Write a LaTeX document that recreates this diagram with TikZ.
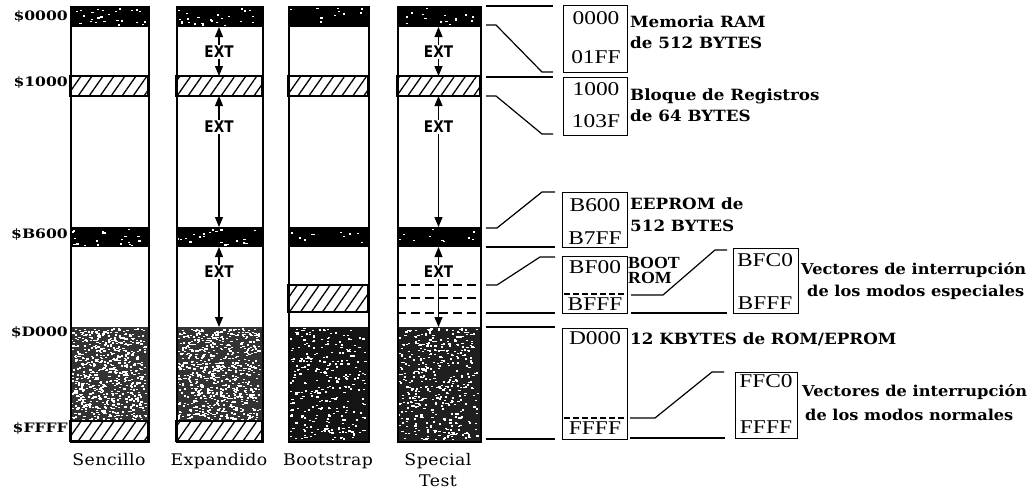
\documentclass[tikz,border=0pt]{standalone}
\usepackage{fontspec}
\setmainfont{DejaVu Serif}
\newfontfamily\addrf[FakeStretch=1.2]{DejaVu Serif}
\newfontfamily\descf[FakeStretch=1.08]{DejaVu Serif}
\newfontfamily\bootfont[FakeStretch=1.05]{Liberation Serif}
\newfontfamily\boxf[FakeStretch=1.2]{Liberation Serif}
\newfontfamily\extf[FakeStretch=0.85]{DejaVu Sans}
\newfontfamily\modef[FakeStretch=1.08,LetterSpace=3]{DejaVu Serif}
\usetikzlibrary{arrows.meta,patterns.meta}
\newcommand{\noisefill}[6]{%
  \fill[black!#6] (#1,#2) rectangle (#3,#4);
  \foreach \k in {1,...,#5}{%
    \pgfmathsetmacro{\px}{#1+1+rnd*(#3-#1-4)}%
    \pgfmathsetmacro{\py}{#2+1+rnd*(#4-#2-3)}%
    \fill[white] (\px,\py) rectangle ++(2.2,1.4);
  }%
}
\begin{document}
\begin{tikzpicture}[x=1pt,y=-1pt,
  colbox/.style={draw=black,line width=1.5pt,anchor=north west,inner sep=0pt},
  hatch/.style={pattern={Lines[angle=55,distance=9pt,line width=1.3pt]},draw=black,line width=1.2pt},
  conn/.style={line width=1.2pt},
  mbox/.style={draw=black,line width=1.4pt,anchor=north west,inner sep=0pt},
  ext/.style={font=\extf\bfseries\fontsize{16}{16}\selectfont,inner sep=1pt},
  extarrow/.style={line width=1.1pt,-{Triangle[length=10pt,width=8pt]}},
  addr/.style={anchor=east,inner sep=0pt,font=\addrf\bfseries\fontsize{13}{13}\selectfont},
  desc/.style={anchor=base west,inner sep=0pt,font=\descf\bfseries\fontsize{15.5}{15.5}\selectfont},
  descv/.style={anchor=base west,inner sep=0pt,font=\descf\bfseries\fontsize{15}{15}\selectfont},
  bootf/.style={anchor=base west,inner sep=0pt,font=\bootfont\bfseries\fontsize{17}{17}\selectfont},
  boxtxt/.style={inner sep=0pt,font=\boxf\fontsize{19.5}{19.5}\selectfont},
  modelab/.style={anchor=base,inner sep=0pt,font=\modef\fontsize{16}{16}\selectfont},
  dashline/.style={line width=1.2pt,dash pattern=on 9pt off 5pt}
]
\useasboundingbox (0,0) rectangle (1031,490);
\pgfmathsetseed{7}

% ---- column 1: Sencillo
\noisefill{70}{6}{148}{27}{25}{100}
\draw[hatch] (70,76) rectangle (148,96);
\noisefill{70}{227}{148}{247}{20}{100}
\noisefill{70}{327}{148}{421}{650}{80}
\draw[hatch] (70,421) rectangle (148,441);
% ---- column 2: Expandido
\noisefill{176}{6}{262}{27}{25}{100}
\draw[hatch] (176,76) rectangle (262,96);
\noisefill{176}{227}{262}{247}{20}{100}
\noisefill{176}{327}{262}{421}{700}{80}
\draw[hatch] (176,421) rectangle (262,441);
% ---- column 3: Bootstrap
\noisefill{288}{6}{368}{27}{10}{100}
\draw[hatch] (288,76) rectangle (368,96);
\noisefill{288}{227}{368}{247}{10}{100}
\draw[hatch] (288,285) rectangle (368,312);
\noisefill{288}{327}{368}{441}{300}{92}
% ---- column 4: Special Test
\noisefill{397}{6}{480}{27}{15}{100}
\draw[hatch] (397,76) rectangle (480,96);
\noisefill{397}{227}{480}{247}{10}{100}
\noisefill{397}{327}{480}{441}{450}{88}
\draw[dashline] (397,285) -- (480,285);
\draw[dashline] (397,298) -- (480,298);
\draw[dashline] (397,313) -- (480,313);

% column outlines
\node[colbox,minimum width=78pt,minimum height=435pt] (col1) at (70,6) {};
\node[colbox,minimum width=86pt,minimum height=435pt] (col2) at (176,6) {};
\node[colbox,minimum width=80pt,minimum height=435pt] (col3) at (288,6) {};
\node[colbox,minimum width=83pt,minimum height=435pt] (col4) at (397,6) {};

% address labels
\node[addr] (a0) at (68,16.5) {\$0000};
\node[addr] (a1) at (68,82) {\$1000};
\node[addr] (a2) at (68,234) {\$B600};
\node[addr] (a3) at (68,332) {\$D000};
\node[addr] (a4) at (68,428) {\$FFFF};

% EXT arrows
\foreach \cx/\nm in {219/e2,438.5/e4}{
  \node[ext] (\nm a) at (\cx,52) {EXT};
  \coordinate (\nm at) at (\cx,27);
  \coordinate (\nm ab) at (\cx,76);
  \draw[extarrow] (\nm a.north) -- (\nm at);
  \draw[extarrow] (\nm a.south) -- (\nm ab);
  \node[ext] (\nm b) at (\cx,127) {EXT};
  \coordinate (\nm bt) at (\cx,96);
  \coordinate (\nm bb) at (\cx,227);
  \draw[extarrow] (\nm b.north) -- (\nm bt);
  \draw[extarrow] (\nm b.south) -- (\nm bb);
  \node[ext] (\nm c) at (\cx,272) {EXT};
  \coordinate (\nm ct) at (\cx,247);
  \coordinate (\nm cb) at (\cx,327);
  \draw[extarrow] (\nm c.north) -- (\nm ct);
  \draw[extarrow] (\nm c.south) -- (\nm cb);
}

% mode labels
\node[modelab] (m1) at (109,465) {Sencillo};
\node[modelab] (m2) at (219,465) {Expandido};
\node[modelab] (m3) at (328,465) {Bootstrap};
\node[modelab] (m4) at (438,465) {Special};
\node[modelab] (m4b) at (438,486) {Test};

% detail boxes
\node[mbox,minimum width=64pt,minimum height=67pt] (b1) at (563,5) {};
\node[boxtxt] (b1t) at (596,18) {0000};
\node[boxtxt] (b1b) at (596,57) {01FF};
\node[mbox,minimum width=64pt,minimum height=58pt] (b2) at (563,77) {};
\node[boxtxt] (b2t) at (596,89) {1000};
\node[boxtxt] (b2b) at (596,121) {103F};
\node[mbox,minimum width=65pt,minimum height=55pt] (b3) at (562,192) {};
\node[boxtxt] (b3t) at (595,205) {B600};
\node[boxtxt] (b3b) at (595,238) {B7FF};
\node[mbox,minimum width=65pt,minimum height=57pt] (b4) at (562,256) {};
\node[boxtxt] (b4t) at (595,267) {BF00};
\node[boxtxt] (b4b) at (595,304) {BFFF};
\draw[line width=1.2pt,dash pattern=on 6pt off 3pt] (564,294) -- (625,294);
\node[mbox,minimum width=65pt,minimum height=111pt] (b5) at (562,328) {};
\node[boxtxt] (b5t) at (595,338) {D000};
\node[boxtxt] (b5b) at (595,428) {FFFF};
\draw[line width=1.2pt,dash pattern=on 6pt off 3pt] (564,418) -- (625,418);
\node[mbox,minimum width=65pt,minimum height=65pt] (b6) at (733,248) {};
\node[boxtxt] (b6t) at (765,260) {BFC0};
\node[boxtxt] (b6b) at (765,303) {BFFF};
\node[mbox,minimum width=62pt,minimum height=66pt] (b7) at (735,372) {};
\node[boxtxt] (b7t) at (766,381) {FFC0};
\node[boxtxt] (b7b) at (766,427) {FFFF};

% expansion connectors
\draw[conn] (486,6) -- (553,6);
\draw[conn] (486,25) -- (496,25) -- (542,72) -- (553,72);
\draw[conn] (486,77) -- (553,77);
\draw[conn] (486,96) -- (496,96) -- (542,134) -- (553,134);
\draw[conn] (486,228) -- (497,228) -- (542,192) -- (555,192);
\draw[conn] (486,247) -- (555,247);
\draw[conn] (486,285) -- (497,285) -- (540,257) -- (555,257);
\draw[conn] (486,313) -- (555,313);
\draw[conn] (486,327) -- (555,327);
\draw[conn] (486,439) -- (555,439);
\draw[conn] (631,295) -- (663,295) -- (715,250) -- (727,250);
\draw[conn] (631,313) -- (727,313);
\draw[conn] (630,418) -- (655,418) -- (712,372) -- (724,372);
\draw[conn] (630,438) -- (725,438);

% descriptions
\node[desc] (d1) at (630,27) {Memoria RAM};
\node[desc] (d2) at (630,48) {de 512 BYTES};
\node[desc] (d3) at (630,100) {Bloque de Registros};
\node[desc] (d4) at (630,121) {de 64 BYTES};
\node[desc] (d5) at (630,209) {EEPROM de};
\node[desc] (d6) at (630,231) {512 BYTES};
\node[bootf] (d7) at (628,268) {BOOT};
\node[bootf] (d8) at (628,283) {ROM};
\node[desc] (d9) at (630,344) {12 KBYTES de ROM/EPROM};
\node[descv] (d10) at (801,274) {Vectores de interrupción};
\node[descv] (d11) at (807,296) {de los modos especiales};
\node[descv] (d12) at (802,396) {Vectores de interrupción};
\node[descv] (d13) at (805,420) {de los modos normales};
\end{tikzpicture}
\end{document}
